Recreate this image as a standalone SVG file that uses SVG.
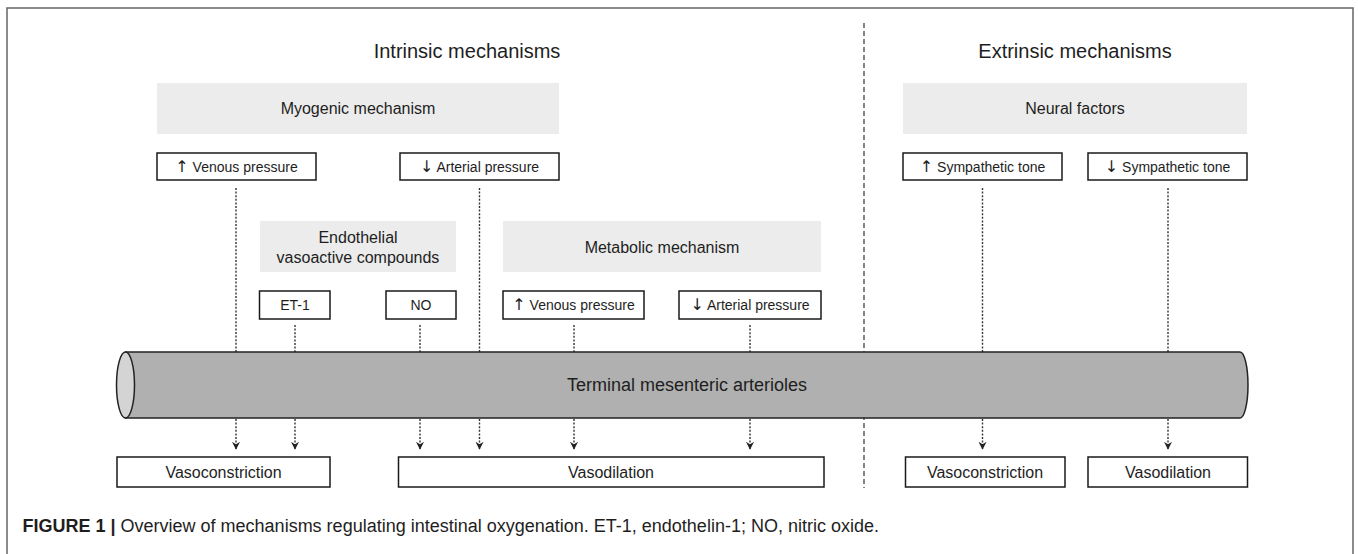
<svg xmlns="http://www.w3.org/2000/svg" width="1358" height="554" viewBox="0 0 1358 554">
<defs>
<style>
text{font-family:"Liberation Sans",Arial,sans-serif;fill:#1e1e1e;text-anchor:middle}
.hdr{font-size:20px}
.grp{fill:#ececec;stroke:none}
.grpt{font-size:16px}
.box{fill:#fff;stroke:#1a1a1a;stroke-width:1.5}
.bt{font-size:14px}
.ar{font-family:"DejaVu Sans",sans-serif;font-size:16px}
.out{font-size:16px}
.dot{stroke:#333;stroke-width:1.4;stroke-dasharray:2 1.6;fill:none}
.arr{stroke:#333;stroke-width:1.4;stroke-dasharray:2 1.6;fill:none;marker-end:url(#ah)}
</style>
<marker id="ah" viewBox="0 0 10 10" refX="9" refY="5" markerWidth="8" markerHeight="8" markerUnits="userSpaceOnUse" orient="auto">
<path d="M0,0 L10,5 L0,10 L3,5 Z" fill="#222"/>
</marker>
</defs>
<rect width="1358" height="554" fill="#fff"/>
<path d="M7,554 V8 H1353 V554" fill="none" stroke="#666" stroke-width="1.5"/>

<g id="headers">
<text class="hdr" x="467" y="58">Intrinsic mechanisms</text>
<text class="hdr" x="1075" y="58">Extrinsic mechanisms</text>
</g>

<g id="divider">
<line x1="864" y1="23" x2="864" y2="488" stroke="#444" stroke-width="1.3" stroke-dasharray="5 3"/>
</g>

<g id="connectors">
<line class="dot" x1="236" y1="188" x2="236" y2="352"/>
<line class="dot" x1="479.5" y1="188" x2="479.5" y2="352"/>
<line class="dot" x1="295" y1="325" x2="295" y2="352"/>
<line class="dot" x1="420" y1="325" x2="420" y2="352"/>
<line class="dot" x1="574" y1="325" x2="574" y2="352"/>
<line class="dot" x1="750" y1="325" x2="750" y2="352"/>
<line class="dot" x1="982.5" y1="188" x2="982.5" y2="352"/>
<line class="dot" x1="1168" y1="188" x2="1168" y2="352"/>
<line class="arr" x1="236" y1="419" x2="236" y2="449"/>
<line class="arr" x1="295" y1="419" x2="295" y2="449"/>
<line class="arr" x1="420" y1="419" x2="420" y2="449"/>
<line class="arr" x1="479.5" y1="419" x2="479.5" y2="449"/>
<line class="arr" x1="574" y1="419" x2="574" y2="449"/>
<line class="arr" x1="750" y1="419" x2="750" y2="449"/>
<line class="arr" x1="982.5" y1="419" x2="982.5" y2="449"/>
<line class="arr" x1="1168" y1="419" x2="1168" y2="449"/>
</g>

<g id="tube">
<path d="M125.5,352 H1240 A8,33 0 0 1 1240,418 H125.5 Z" fill="#b0b0b0" stroke="#222" stroke-width="1.5"/>
<ellipse cx="125.5" cy="385" rx="9" ry="33" fill="#d4d4d4" stroke="#222" stroke-width="1.5"/>
<text x="687" y="391" font-size="18">Terminal mesenteric arterioles</text>
</g>

<g id="myogenic">
<rect class="grp" x="157" y="83" width="402" height="51"/>
<text class="grpt" x="358" y="114">Myogenic mechanism</text>
</g>
<g id="myo-venous">
<rect class="box" x="157" y="153" width="159" height="27"/>
<text class="bt" x="236.5" y="171.5"><tspan class="ar">↑</tspan> Venous pressure</text>
</g>
<g id="myo-arterial">
<rect class="box" x="400" y="153" width="159" height="27"/>
<text class="bt" x="479.5" y="171.5"><tspan class="ar">↓</tspan> Arterial pressure</text>
</g>

<g id="endothelial">
<rect class="grp" x="260" y="221" width="196" height="51"/>
<text class="grpt" x="358" y="243">Endothelial</text>
<text class="grpt" x="358" y="263">vasoactive compounds</text>
</g>
<g id="et1">
<rect class="box" x="259.5" y="291" width="70.5" height="28"/>
<text class="bt" x="295" y="310">ET-1</text>
</g>
<g id="no">
<rect class="box" x="386" y="291" width="70" height="28"/>
<text class="bt" x="421" y="310">NO</text>
</g>

<g id="metabolic">
<rect class="grp" x="503" y="221" width="318" height="51"/>
<text class="grpt" x="662" y="252.5">Metabolic mechanism</text>
</g>
<g id="met-venous">
<rect class="box" x="503" y="291" width="141" height="28"/>
<text class="bt" x="573.5" y="310"><tspan class="ar">↑</tspan> Venous pressure</text>
</g>
<g id="met-arterial">
<rect class="box" x="679" y="291" width="142" height="28"/>
<text class="bt" x="750" y="310"><tspan class="ar">↓</tspan> Arterial pressure</text>
</g>

<g id="neural">
<rect class="grp" x="903" y="83" width="344" height="51"/>
<text class="grpt" x="1075" y="114">Neural factors</text>
</g>
<g id="symp-up">
<rect class="box" x="903" y="153" width="159" height="27"/>
<text class="bt" x="982.5" y="171.5"><tspan class="ar">↑</tspan> Sympathetic tone</text>
</g>
<g id="symp-down">
<rect class="box" x="1088" y="153" width="159" height="27"/>
<text class="bt" x="1167.5" y="171.5"><tspan class="ar">↓</tspan> Sympathetic tone</text>
</g>

<g id="vasoconstriction-left">
<rect class="box" x="117" y="457" width="213" height="30"/>
<text class="out" x="223.5" y="478">Vasoconstriction</text>
</g>
<g id="vasodilation-left">
<rect class="box" x="398.5" y="457" width="425.5" height="30"/>
<text class="out" x="611" y="478">Vasodilation</text>
</g>
<g id="vasoconstriction-right">
<rect class="box" x="905.5" y="457" width="159.5" height="30"/>
<text class="out" x="985" y="478">Vasoconstriction</text>
</g>
<g id="vasodilation-right">
<rect class="box" x="1088" y="457" width="159.5" height="30"/>
<text class="out" x="1168" y="478">Vasodilation</text>
</g>

<g id="caption">
<text x="22.5" y="532" font-size="18" style="text-anchor:start"><tspan font-weight="bold">FIGURE 1 | </tspan>Overview of mechanisms regulating intestinal oxygenation. ET-1, endothelin-1; NO, nitric oxide.</text>
</g>
</svg>
